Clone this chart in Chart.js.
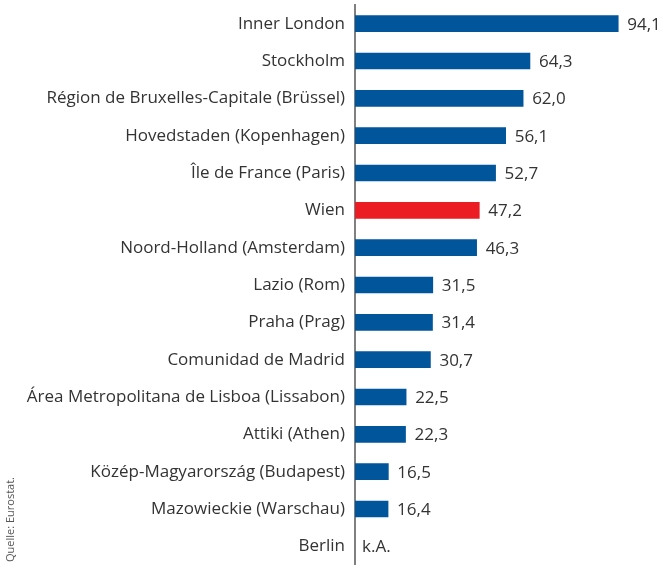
<!DOCTYPE html>
<html>
<head>
<meta charset="utf-8">
<script src="https://cdn.jsdelivr.net/npm/chart.js@4"></script>
<style>
html,body{margin:0;padding:0;background:#fff;}
#wrap{width:668px;height:565px;position:relative;}
</style>
</head>
<body>
<div id="wrap"><canvas id="c" width="668" height="565"></canvas></div>
<script>
const categories = [
  "Inner London",
  "Stockholm",
  "Région de Bruxelles-Capitale (Brüssel)",
  "Hovedstaden (Kopenhagen)",
  "Île de France (Paris)",
  "Wien",
  "Noord-Holland (Amsterdam)",
  "Lazio (Rom)",
  "Praha (Prag)",
  "Comunidad de Madrid",
  "Área Metropolitana de Lisboa (Lissabon)",
  "Attiki (Athen)",
  "Közép-Magyarország (Budapest)",
  "Mazowieckie (Warschau)",
  "Berlin"
];
const values = [94.1, 64.3, 62.0, 56.1, 52.7, 47.2, 46.3, 31.5, 31.4, 30.7, 22.5, 22.3, 16.5, 16.4, null];
const highlight = "Wien";
const missingLabel = "k.A.";
const sourceText = "Quelle: Eurostat.";

const BLUE = "#00559b";
const RED = "#ec1c24";
const TEXT = "#333333";
const FONT = "'Open Sans'";

const colors = categories.map(c => c === highlight ? RED : BLUE);

const valueLabels = {
  id: "valueLabels",
  afterDatasetsDraw(chart) {
    const ctx = chart.ctx;
    const meta = chart.getDatasetMeta(0);
    ctx.save();
    ctx.font = "17px " + FONT;
    ctx.fillStyle = TEXT;
    ctx.textBaseline = "middle";
    ctx.textAlign = "left";
    meta.data.forEach((bar, i) => {
      const v = values[i];
      if (v === null) {
        ctx.fillText(missingLabel, chart.chartArea.left + 7, bar.y + 1);
      } else {
        ctx.fillText(v.toFixed(1).replace(".", ","), bar.x + 9, bar.y + 1);
      }
    });
    ctx.restore();
  }
};

const sourceLabel = {
  id: "sourceLabel",
  afterDraw(chart) {
    const ctx = chart.ctx;
    ctx.save();
    ctx.translate(11, 562);
    ctx.rotate(-Math.PI / 2);
    ctx.font = "11px " + FONT;
    ctx.fillStyle = "#555";
    ctx.textAlign = "left";
    ctx.textBaseline = "middle";
    ctx.fillText(sourceText, 0, 0);
    ctx.restore();
  }
};

new Chart(document.getElementById("c"), {
  type: "bar",
  data: {
    labels: categories,
    datasets: [{
      data: values,
      backgroundColor: colors,
      barThickness: 16,
      borderWidth: 0
    }]
  },
  options: {
    indexAxis: "y",
    responsive: false,
    animation: false,
    devicePixelRatio: 1,
    layout: { padding: { top: 5, bottom: 0, left: 0, right: 0 } },
    plugins: { legend: { display: false }, tooltip: { enabled: false } },
    scales: {
      x: {
        min: 5.24,
        max: 110.9,
        display: false
      },
      y: {
        grid: { display: false, drawTicks: false },
        border: { display: true, color: "#808080", width: 2 },
        ticks: {
          color: TEXT,
          font: { family: FONT, size: 17 },
          padding: 10,
          autoSkip: false
        },
        afterFit(scale) {
          scale.width = 355;
          scale.paddingTop = 0;
          scale.paddingBottom = 0;
        }
      }
    }
  },
  plugins: [valueLabels, sourceLabel]
});
</script>
</body>
</html>
